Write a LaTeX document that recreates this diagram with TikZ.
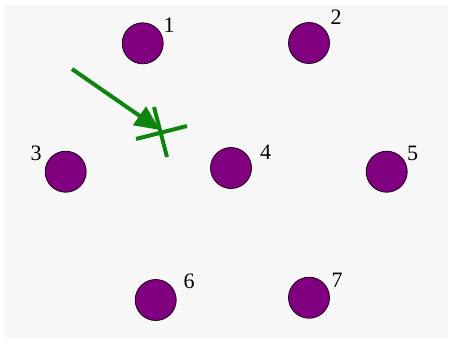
\documentclass[tikz,border=0pt]{standalone}
\usepackage{fontspec}
\setmainfont{Liberation Serif}
\usetikzlibrary{arrows.meta}
\definecolor{bg}{HTML}{F7F7F7}
\definecolor{dot}{HTML}{800080}
\definecolor{grn}{HTML}{0F850F}
\begin{document}
\begin{tikzpicture}[x=1pt,y=-1pt,
  site/.style={circle,draw=black!80!dot,line width=0.8pt,fill=dot,minimum size=41pt,inner sep=0pt},
  lbl/.style={font=\fontsize{22}{22}\selectfont,inner sep=0pt,anchor=base},
  grnline/.style={draw=grn,line width=4pt}]
\useasboundingbox (0,0) rectangle (452,343);
\fill[white] (0,0) rectangle (452,343);
\fill[bg] (4,5) rectangle (448,338);
\node[site] (s1) at (142.7,43.3) {};
\node[site] (s2) at (309,43) {};
\node[site] (s3) at (65.7,171.7) {};
\node[site] (s4) at (231,168) {};
\node[site] (s5) at (386.7,171.7) {};
\node[site] (s6) at (155.7,300) {};
\node[site] (s7) at (309,297.7) {};
\node[lbl] (l1) at (169,32) {1};
\node[lbl] (l2) at (336,24) {2};
\node[lbl] (l3) at (36,160) {3};
\node[lbl] (l4) at (265.5,159.5) {4};
\node[lbl] (l5) at (412.5,160) {5};
\node[lbl] (l6) at (189,288) {6};
\node[lbl] (l7) at (337,287) {7};
\coordinate (a0) at (72,69);
\coordinate (tip) at (160,130);
\coordinate (c1) at (154,107);
\coordinate (c2) at (167,157);
\coordinate (c3) at (136,139);
\coordinate (c4) at (187,126);
\draw[grnline,-{Triangle[length=25pt,width=22pt]}] (a0) -- (tip);
\draw[grnline] (c1) -- (c2);
\draw[grnline] (c3) -- (c4);
\end{tikzpicture}
\end{document}
